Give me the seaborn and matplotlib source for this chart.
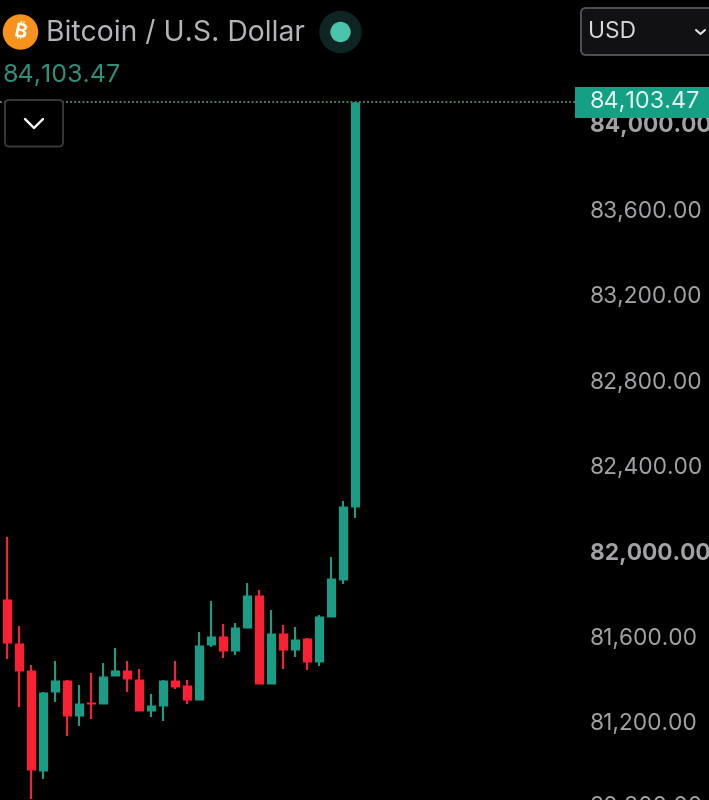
import matplotlib
matplotlib.use("Agg")
import matplotlib.pyplot as plt
from matplotlib.patches import Circle, FancyBboxPatch, Rectangle
import numpy as np
import pandas as pd
import seaborn as sns

TITLE = "Bitcoin / U.S. Dollar"
LAST_PRICE = 84103.47
LAST_LABEL = "84,103.47"
CURRENCY = "USD"

# Candles, oldest first
opens = [81775, 81572, 81444, 80972, 81342, 81397, 81228, 81294, 81283, 81417,
         81444, 81403, 81253, 81275, 81395, 81375, 81303, 81559, 81603, 81532,
         81642, 81795, 81379, 81617, 81537, 81592, 81481, 81693, 81866, 82207]
closes = [81572, 81439, 80975, 81342, 81397, 81228, 81288, 81283, 81417, 81444,
          81403, 81253, 81278, 81395, 81366, 81303, 81560, 81603, 81532, 81646,
          81795, 81379, 81617, 81537, 81589, 81481, 81696, 81874, 82210, LAST_PRICE]
highs = [82068, 81650, 81467, 81342, 81487, 81397, 81373, 81431, 81475, 81547,
         81484, 81447, 81330, 81395, 81484, 81397, 81621, 81766, 81659, 81665,
         81852, 81818, 81724, 81654, 81646, 81592, 81701, 81972, 82236, LAST_PRICE]
lows = [81494, 81272, 80838, 80932, 81295, 81135, 81183, 81214, 81283, 81417,
        81342, 81253, 81225, 81206, 81353, 81283, 81303, 81553, 81498, 81514,
        81642, 81379, 81379, 81447, 81506, 81443, 81464, 81693, 81845, 82155]

tick_values = [81200, 81600, 82000, 82400, 82800, 83200, 83600, 84000]
bold_ticks = [82000, 84000]
cut_tick = 80800

UP, DOWN = "#1a9c85", "#fb2033"
GREY = "#a2a2a6"
W, H = 709, 800
TICK_SIZE = 16.4

sns.set_theme(style="dark", rc={"axes.facecolor": "black", "figure.facecolor": "black"})
plt.rcParams["font.family"] = ["Inter", "Noto Sans", "Roboto", "Open Sans", "Lato", "DejaVu Sans"]

df = pd.DataFrame({"candle": range(len(opens)), "open": opens, "close": closes,
                   "high": highs, "low": lows})
df["direction"] = np.where(df["close"] >= df["open"], "up", "down")
df["top"] = df[["open", "close"]].max(axis=1)
df["bottom"] = df[["open", "close"]].min(axis=1)
wicks = df.melt(id_vars=["candle", "direction"], value_vars=["high", "low"], value_name="price")
bodies = df.melt(id_vars=["candle", "direction"], value_vars=["top", "bottom"], value_name="price")
palette = {"up": UP, "down": DOWN}

fig = plt.figure(figsize=(W / 100, H / 100), dpi=100, facecolor="black")
ax = fig.add_axes([0, 0, 575 / W, 1])

common = dict(x="candle", y="price", units="candle", hue="direction", estimator=None,
              palette=palette, legend=False, ax=ax, sort=False)
sns.lineplot(data=wicks, linewidth=1.5, solid_capstyle="butt", **common)
sns.lineplot(data=bodies, linewidth=6.6, solid_capstyle="butt", **common)

ax.axhline(LAST_PRICE, color="#5fa898", lw=1.1, ls=(0, (1.2, 1.5)), zorder=1)

px = 400 / 85.43
ax.set_xlim(-7 / 12, (575 - 7) / 12)
ax.set_ylim(81200 - 78 * px, 81200 + 722 * px)
ax.set_xlabel("")
ax.set_ylabel("")
ax.set_xticks([])
ax.grid(False)
for s in ax.spines.values():
    s.set_visible(False)

ax.yaxis.tick_right()
ax.set_yticks(tick_values)
ax.set_yticklabels([f"{v:,.2f}" for v in tick_values])
ax.tick_params(axis="y", length=0, pad=10.5, labelsize=TICK_SIZE, labelcolor=GREY)
for lab, v in zip(ax.get_yticklabels(), tick_values):
    if v in bold_ticks:
        lab.set_fontweight("bold")
ax.text(590 / 575, cut_tick, f"{cut_tick:,.2f}", transform=ax.get_yaxis_transform(),
        color=GREY, fontsize=TICK_SIZE, va="center", ha="left", clip_on=False)

# Interface elements, in pixel coordinates of the picture
ui = fig.add_axes([0, 0, 1, 1], zorder=5)
ui.set_xlim(0, W)
ui.set_ylim(H, 0)
ui.axis("off")
ui.patch.set_alpha(0)

ui.add_patch(Circle((20.5, 32), 17, color="#f7931a"))
ui.text(20.5, 32, "\u20bf", color="white", fontsize=14, fontweight="bold", rotation=-12,
        ha="center", va="center")
ui.text(46, 33, TITLE, color="#b4b4b8", fontsize=20.4, ha="left", va="center")
ui.text(3, 76, LAST_LABEL, color="#2f8f7a", fontsize=18, ha="left", va="center")
ui.add_patch(Circle((340.5, 32), 20.5, color="#0e2523"))
ui.add_patch(Circle((340.5, 32), 9.5, color="#4cc3ab"))

ui.add_patch(FancyBboxPatch((5, 100), 58, 46.5, boxstyle="round,pad=0,rounding_size=4",
                            fc="black", ec="#3c3c40", lw=1.3))
ui.plot([25, 34, 43], [119, 128, 119], color="white", lw=1.7, solid_capstyle="round")

ui.add_patch(FancyBboxPatch((581, 8), 140, 47, boxstyle="round,pad=0,rounding_size=5",
                            fc="#111113", ec="#555558", lw=1.3))
ui.text(588, 32, CURRENCY, color="#d8d8dc", fontsize=16.4, ha="left", va="center")
ui.plot([696, 700.5, 705], [30, 34, 30], color="#e0e0e0", lw=1.5, solid_capstyle="round")

ui.add_patch(Rectangle((575, 87), 134, 31, fc="#14a085", ec="none"))
ui.text(590, 102, LAST_LABEL, color="#e6f5f1", fontsize=16.9, ha="left", va="center")

fig.savefig("out.png", dpi=100, facecolor="black")
